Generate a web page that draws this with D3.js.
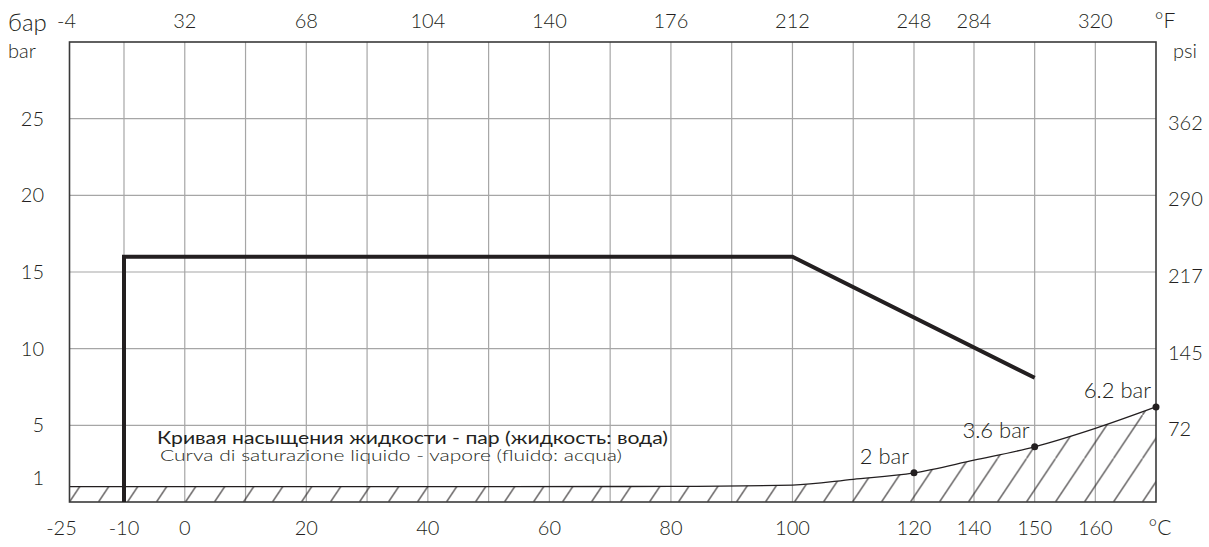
<!DOCTYPE html>
<html>
<head>
<meta charset="utf-8">
<script src="https://cdn.jsdelivr.net/npm/d3@7"></script>
<style>
  body { margin: 0; background: #fff; }
  svg { display: block; font-family: Lato, 'DejaVu Sans', sans-serif; font-weight: 300; }
</style>
</head>
<body>
<svg width="1209" height="547"></svg>
<script>
// temperature ticks (°C) along the bottom
const celsiusTicks = [-25, -10, 0, 20, 40, 60, 80, 100, 120, 140, 150, 160];
// vertical grid lines (°C)
const gridCelsius = [-10, 0, 10, 20, 30, 40, 50, 60, 70, 80, 90, 100, 110, 120, 140, 150, 160];
// °F labels on top and the °C column they sit above
const fahrenheitLabels = ['-4', '32', '68', '104', '140', '176', '212', '248', '284', '320'];
const fahrenheitAt = [-25, 0, 20, 40, 60, 80, 100, 120, 140, 160];
// pressure ticks
const barTicks = [1, 5, 10, 15, 20, 25];
const gridBar = [5, 10, 15, 20, 25];
const psiLabels = ['72', '145', '217', '290', '362'];
const psiAt = [5, 10, 15, 20, 25];

// working limit line
const limitTemp = [-10, -10, 100, 150];
const limitBar = [0, 16, 16, 8.1];

// liquid - vapour saturation curve
const satTemp = [-25, 0, 50, 80, 100, 110, 120, 140, 150, 160, 170];
const satBar = [1, 1, 1, 1.02, 1.1, 1.48, 1.9, 2.73, 3.6, 4.8, 6.2];

// marked points on the curve
const markTemp = [120, 150, 170];
const markBar = [1.9, 3.6, 6.2];
const markLabels = ['2 bar', '3.6 bar', '6.2 bar'];

const svg = d3.select('svg');
const ink = '#231f20';

const x = d3.scaleLinear()
    .domain([-25, -10, 120, 140, 170])
    .range([69.5, 124, 914, 974, 1156]);

const y = d3.scaleLinear()
    .domain([0, 30])
    .range([502, 42]);

const g = svg.append('g');

// hatch pattern
const defs = svg.append('defs');
const pat = defs.append('pattern')
    .attr('id', 'hatch')
    .attr('patternUnits', 'userSpaceOnUse')
    .attr('x', 69.5)
    .attr('y', 502)
    .attr('width', 29)
    .attr('height', 43.5);
pat.append('path')
    .attr('d', 'M-1,45 L30,-1.5')
    .attr('stroke', ink)
    .attr('stroke-width', 1);

// grid
g.selectAll('.vgrid').data(gridCelsius).join('line')
    .attr('class', 'vgrid')
    .attr('x1', d => x(d)).attr('x2', d => x(d))
    .attr('y1', y(30)).attr('y2', y(0))
    .attr('stroke', '#a6a6a6')
    .attr('stroke-width', 1.2);

g.selectAll('.hgrid').data(gridBar).join('line')
    .attr('class', 'hgrid')
    .attr('x1', x(-25)).attr('x2', x(170))
    .attr('y1', d => y(d)).attr('y2', d => y(d))
    .attr('stroke', '#a6a6a6')
    .attr('stroke-width', 1.2);

// saturation area (hatched)
const satData = satTemp.map((t, i) => ({ t, p: satBar[i] }));

const area = d3.area()
    .x(d => x(d.t))
    .y0(y(0))
    .y1(d => y(d.p))
    .curve(d3.curveMonotoneX);

g.append('path')
    .attr('d', area(satData))
    .attr('fill', 'url(#hatch)');

const satLine = d3.line()
    .x(d => x(d.t))
    .y(d => y(d.p))
    .curve(d3.curveMonotoneX);

g.append('path')
    .attr('d', satLine(satData))
    .attr('fill', 'none')
    .attr('stroke', ink)
    .attr('stroke-width', 1.3);

// frame
g.append('rect')
    .attr('x', x(-25))
    .attr('y', y(30))
    .attr('width', x(170) - x(-25))
    .attr('height', y(0) - y(30))
    .attr('fill', 'none')
    .attr('stroke', '#3a3a3a')
    .attr('stroke-width', 1.6);

// limit line
const limitData = limitTemp.map((t, i) => ({ t, p: limitBar[i] }));
g.append('path')
    .attr('d', d3.line().x(d => x(d.t)).y(d => y(d.p))(limitData))
    .attr('fill', 'none')
    .attr('stroke', ink)
    .attr('stroke-width', 4);

// marked points
const marks = markTemp.map((t, i) => ({ t, p: markBar[i], label: markLabels[i] }));
g.selectAll('.dot').data(marks).join('circle')
    .attr('class', 'dot')
    .attr('cx', d => x(d.t))
    .attr('cy', d => y(d.p))
    .attr('r', 3.5)
    .attr('fill', ink);

g.selectAll('.mark-label').data(marks).join('text')
    .attr('class', 'mark-label')
    .attr('x', d => x(d.t) - 5)
    .attr('y', d => y(d.p) - 9)
    .attr('text-anchor', 'end')
    .attr('font-size', 22)
    .attr('fill', ink)
    .text(d => d.label);

// curve captions
g.append('text')
    .attr('x', 157).attr('y', 444)
    .attr('font-size', 17)
    .attr('font-weight', 400)
    .attr('fill', ink)
    .attr('textLength', 511)
    .attr('lengthAdjust', 'spacingAndGlyphs')
    .text('Кривая насыщения жидкости - пар (жидкость: вода)');

g.append('text')
    .attr('x', 160).attr('y', 461)
    .attr('font-size', 15)
    .attr('fill', ink)
    .attr('textLength', 462)
    .attr('lengthAdjust', 'spacingAndGlyphs')
    .text('Curva di saturazione liquido - vapore (fluido: acqua)');

// bottom °C labels
g.selectAll('.c-label').data(celsiusTicks).join('text')
    .attr('class', 'c-label')
    .attr('x', (d, i) => x(d) + (i === 0 ? -8 : 0))
    .attr('y', 535)
    .attr('text-anchor', 'middle')
    .attr('font-size', 20)
    .attr('fill', ink)
    .text(d => d);

g.append('text')
    .attr('x', 1160).attr('y', 535)
    .attr('text-anchor', 'middle')
    .attr('font-size', 21)
    .attr('fill', ink)
    .text('°C');

// top °F labels
g.selectAll('.f-label').data(fahrenheitLabels).join('text')
    .attr('class', 'f-label')
    .attr('x', (d, i) => x(fahrenheitAt[i]) - (i === 0 ? 3 : 0))
    .attr('y', 28)
    .attr('text-anchor', 'middle')
    .attr('font-size', 20)
    .attr('fill', ink)
    .text(d => d);

g.append('text')
    .attr('x', 1165).attr('y', 28)
    .attr('text-anchor', 'middle')
    .attr('font-size', 21)
    .attr('fill', ink)
    .text('°F');

// left bar labels
g.selectAll('.bar-label').data(barTicks).join('text')
    .attr('class', 'bar-label')
    .attr('x', 44)
    .attr('y', d => y(d) + 7 - (d === 1 ? 9 : 0))
    .attr('text-anchor', 'end')
    .attr('font-size', 20)
    .attr('fill', ink)
    .text(d => d);

g.append('text')
    .attr('x', 8).attr('y', 31)
    .attr('font-size', 24)
    .attr('fill', ink)
    .text('бар');

g.append('text')
    .attr('x', 8).attr('y', 58)
    .attr('font-size', 20)
    .attr('fill', ink)
    .text('bar');

// right psi labels
g.selectAll('.psi-label').data(psiLabels).join('text')
    .attr('class', 'psi-label')
    .attr('x', 1168)
    .attr('y', (d, i) => y(psiAt[i]) + 11)
    .attr('font-size', 20)
    .attr('fill', ink)
    .text(d => d);

g.append('text')
    .attr('x', 1173).attr('y', 58)
    .attr('font-size', 20)
    .attr('fill', ink)
    .text('psi');
</script>
</body>
</html>
